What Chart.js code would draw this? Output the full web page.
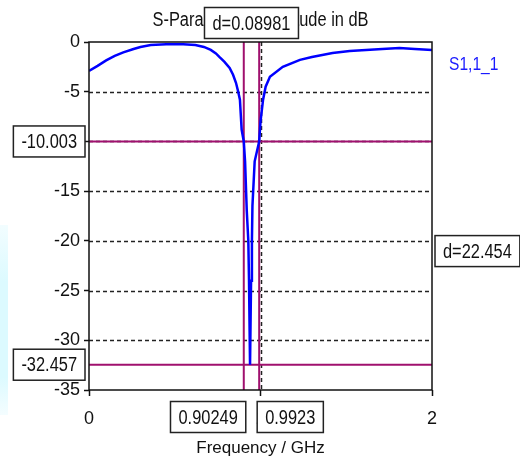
<!DOCTYPE html>
<html>
<head>
<meta charset="utf-8">
<script src="https://cdn.jsdelivr.net/npm/chart.js@4.4.0/dist/chart.umd.min.js"></script>
<style>
html, body { margin: 0; padding: 0; background: #fff; }
#wrap { position: relative; width: 520px; height: 464px; }
#strip { position: absolute; left: 0; top: 225px; width: 8px; height: 190px;
         background: linear-gradient(#f2fdff, #dcfaff 30%, #dcfaff 80%, #f4fdff); }
#chart { position: relative; display: block; }
</style>
</head>
<body>
<div id="wrap">
  <div id="strip"></div>
  <canvas id="chart" width="520" height="464"></canvas>
</div>
<script>
// S11
const freqGHz = [0, 0.05, 0.1, 0.15, 0.2, 0.26, 0.3, 0.36, 0.45, 0.55, 0.62, 0.67, 0.71, 0.74, 0.76, 0.79,
  0.82, 0.84, 0.857, 0.87, 0.88, 0.89, 0.9025, 0.91, 0.92, 0.929, 0.933, 0.939, 0.945, 0.95, 0.953, 0.966,
  0.9923, 1.0, 1.015, 1.03, 1.055, 1.13, 1.23, 1.3, 1.42, 1.52, 1.71, 1.81, 1.9, 2.0];
const s11dB = [-2.9, -2.4, -1.85, -1.4, -1.05, -0.7, -0.5, -0.3, -0.22, -0.22, -0.3, -0.5, -0.8, -1.15, -1.5, -2.0,
  -2.6, -3.3, -4.1, -5.0, -5.8, -8.8, -10.0, -12, -17, -20, -24, -32.457, -24, -20, -16.5, -12,
  -10.0, -8.0, -5.8, -4.5, -3.5, -2.5, -1.8, -1.5, -1.1, -0.9, -0.7, -0.6, -0.7, -0.8];

const markerFreqs = [0.90249, 0.9923];
const markerLevels = [-10.003, -32.457];
const seriesName = 'S1,1_1';
const titleText = 'S-Parameter Magnitude in dB';

const FONT = '"Liberation Sans", Arial, sans-serif';
const markerColor = '#a0106e';
const NARROW = 0.82;   // the original uses a narrow face

function narrowText(ctx, text, cx, cy, size, color) {
    ctx.save();
    ctx.font = size + 'px ' + FONT;
    ctx.fillStyle = color;
    ctx.textAlign = 'center';
    ctx.textBaseline = 'middle';
    ctx.translate(cx, cy);
    ctx.scale(NARROW, 1);
    ctx.fillText(text, 0, 0);
    ctx.restore();
}

function drawBox(ctx, text, x, y, align) {
    ctx.font = '20px ' + FONT;
    const w = ctx.measureText(text).width * NARROW + 16;
    const h = 31;
    let left = x;
    if (align === 'right') left = x - w;
    if (align === 'center') left = x - w / 2;
    ctx.fillStyle = '#fff';
    ctx.fillRect(left, y - h / 2, w, h);
    ctx.strokeStyle = '#222';
    ctx.lineWidth = 1.5;
    ctx.strokeRect(left, y - h / 2, w, h);
    narrowText(ctx, text, left + w / 2, y + 1, 20, '#111');
}

const markerPlugin = {
    id: 'markers',
    beforeDatasetsDraw(chart) {
        const { ctx, chartArea: a, scales: { x, y } } = chart;
        ctx.save();
        // dashed grid
        ctx.setLineDash([4, 3]);
        ctx.strokeStyle = '#222';
        ctx.lineWidth = 1.5;
        y.ticks.forEach(t => {
            if (t.value === y.min || t.value === y.max) return;
            const py = Math.round(y.getPixelForValue(t.value)) + 0.5;
            ctx.beginPath(); ctx.moveTo(a.left, py); ctx.lineTo(a.right, py); ctx.stroke();
        });
        x.ticks.forEach(t => {
            if (t.value === x.min || t.value === x.max) return;
            const px = Math.round(x.getPixelForValue(t.value)) + 0.5;
            ctx.beginPath(); ctx.moveTo(px, a.top); ctx.lineTo(px, a.bottom); ctx.stroke();
        });
        ctx.setLineDash([]);
        // marker lines
        ctx.strokeStyle = markerColor;
        ctx.lineWidth = 2;
        markerLevels.forEach(v => {
            const py = y.getPixelForValue(v);
            ctx.beginPath(); ctx.moveTo(a.left, py); ctx.lineTo(a.right, py); ctx.stroke();
        });
        markerFreqs.forEach(v => {
            const px = x.getPixelForValue(v);
            ctx.beginPath(); ctx.moveTo(px, a.top); ctx.lineTo(px, a.bottom); ctx.stroke();
        });
        ctx.restore();
    },
    afterDraw(chart) {
        const { ctx, chartArea: a, scales: { x, y } } = chart;
        ctx.save();
        // frame
        ctx.strokeStyle = '#111';
        ctx.lineWidth = 1.5;
        ctx.strokeRect(a.left, a.top, a.right - a.left, a.bottom - a.top);

        // title, centred over the plot
        narrowText(ctx, titleText, (a.left + a.right) / 2, 20, 20, '#111');

        // level boxes on the left
        markerLevels.forEach(v => drawBox(ctx, v.toFixed(3), a.left - 4, y.getPixelForValue(v), 'right'));
        // frequency boxes below
        const boxY = a.bottom + 27;
        drawBox(ctx, String(markerFreqs[0]), x.getPixelForValue(markerFreqs[0]) + 2, boxY, 'right');
        drawBox(ctx, String(markerFreqs[1]), x.getPixelForValue(markerFreqs[1]) - 2, boxY, 'left');
        // delta boxes
        const dF = (markerFreqs[1] - markerFreqs[0]).toFixed(5);
        const midX = (x.getPixelForValue(markerFreqs[0]) + x.getPixelForValue(markerFreqs[1])) / 2;
        drawBox(ctx, 'd=' + dF, midX, 23, 'center');
        const dL = (markerLevels[0] - markerLevels[1]).toFixed(3);
        const midY = (y.getPixelForValue(markerLevels[0]) + y.getPixelForValue(markerLevels[1])) / 2;
        drawBox(ctx, 'd=' + dL, a.right + 3, midY - 2, 'left');

        // legend entry
        ctx.font = '19px ' + FONT;
        const lw = ctx.measureText(seriesName).width * NARROW;
        narrowText(ctx, chart.data.datasets[0].label, a.right + 17 + lw / 2, a.top + 23, 19, '#1a1aff');
        ctx.restore();
    }
};

new Chart(document.getElementById('chart'), {
    type: 'line',
    data: {
        datasets: [{
            label: seriesName,
            data: freqGHz.map((f, i) => ({ x: f, y: s11dB[i] })),
            borderColor: '#0000ff',
            borderWidth: 2.5,
            pointRadius: 0,
            tension: 0
        }]
    },
    options: {
        responsive: false,
        animation: false,
        layout: { padding: { left: 0, right: 88, top: 42, bottom: 0 } },
        plugins: {
            legend: { display: false },
            tooltip: { enabled: false },
            title: { display: false }
        },
        scales: {
            x: {
                type: 'linear', min: 0, max: 2,
                ticks: { stepSize: 1, color: '#111', font: { family: FONT, size: 18 }, padding: 12, maxRotation: 0 },
                grid: { drawOnChartArea: false, tickLength: 6, tickColor: '#111', tickWidth: 1.5 },
                border: { display: false },
                title: { display: true, text: 'Frequency / GHz', color: '#111',
                         font: { family: FONT, size: 17 }, padding: { top: 0, bottom: 5 } },
                afterFit: s => { s.height = 74; }
            },
            y: {
                min: -35, max: 0,
                ticks: { stepSize: 5, color: '#111', font: { family: FONT, size: 18 }, padding: 4 },
                grid: { drawOnChartArea: false, tickLength: 5, tickColor: '#111', tickWidth: 1.5 },
                border: { display: false },
                afterFit: s => { s.width = 89; }
            }
        }
    },
    plugins: [markerPlugin]
});
</script>
</body>
</html>
